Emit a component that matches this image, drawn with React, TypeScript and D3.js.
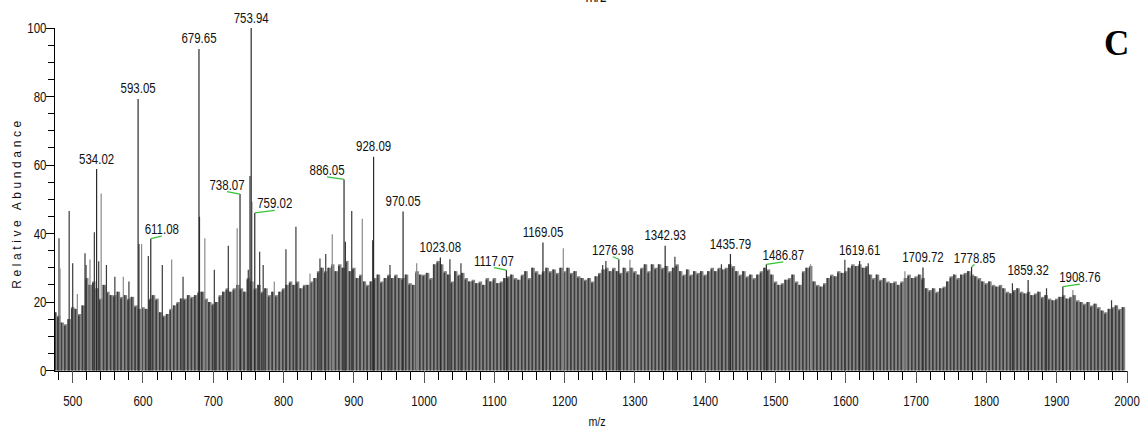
import { useMemo } from "react";
import * as d3 from "d3";

const WIDTH = 1142;
const HEIGHT = 436;
const PLOT = { left: 54, right: 1127, top: 28, bottom: 370.5 };

// dense background of the spectrum, one value every 5 m/z starting at 475
const BASE_START = 475;
const BASE_STEP = 5;
const baseIntensity = [
  17, 16, 14, 13.5, 15,
  18.5, 18, 16.5, 19, 27, 25, 26, 24, 21, 25, 23, 22, 22, 23, 21.5, 22, 21, 21.5, 19, 18,
  18.5, 18, 21, 22, 21, 17, 16, 16.5, 18, 19, 20, 21, 21, 22, 21.5, 22, 23, 23, 21, 20,
  19.5, 20, 22, 23, 24, 23, 24, 25, 24, 23, 27, 26, 24, 25, 23, 24, 22, 23, 22, 23,
  24, 25, 26, 25, 26, 24, 25, 25, 26, 27, 29, 30, 29, 30, 31, 29, 31, 30, 32, 29,
  30, 27, 28, 26, 25, 26, 27, 28, 26, 27, 28, 27, 28, 27, 27, 28, 25.5, 25, 29, 28,
  28, 28.5, 27, 31, 32, 31, 29, 28, 26, 29, 28, 28.5, 27, 26, 26.5, 25.5, 26, 25, 27, 26,
  27, 25.5, 26, 27, 27.5, 28, 27, 26.5, 28, 29, 27, 30, 29, 28, 29, 30, 29, 29.5, 28.5, 30,
  29, 30, 28.5, 29, 27.5, 27, 26.5, 27, 26, 27.5, 28.5, 29.5, 30, 29, 30, 29, 28.5, 30, 29, 30,
  29, 28, 30, 31, 29, 31, 30, 31, 30, 30.5, 29, 30, 31, 29, 28, 29.5, 28, 29, 28.5, 29,
  28, 29, 30, 29, 30, 29.5, 30, 31, 30.5, 29, 28, 29, 27.5, 28, 27, 28, 29, 30, 29.5, 28,
  26, 25, 25.5, 26.5, 27, 28, 26, 25, 29, 30, 30.5, 26, 25, 24.5, 25.5, 27, 28, 27.5, 29, 28.5,
  29, 30, 31, 30.5, 31, 30, 30.5, 28, 27, 28, 26.5, 27, 26, 25.5, 26, 25, 26, 27, 28, 27,
  27.5, 28, 27, 24, 23.5, 24, 23, 24, 24.5, 26, 27.5, 28, 27, 28, 28.5, 29, 28, 27.5, 27, 26,
  25.5, 26, 25, 24.5, 25, 24, 23, 22.5, 23.5, 24, 23, 22.5, 23, 22, 22.5, 23, 21.5, 22, 21, 20.5,
  21, 21.5, 22, 21, 21.5, 22, 20.5, 20, 19.5, 20, 19, 19.5, 18.5, 17.5, 17, 18, 18.5, 19, 18, 18.5,
];

// single lines that stand out of the background (not labelled)
const spikeMz = [
  480.5, 482, 495, 500, 506.6, 517.5, 519, 524.6, 530.8, 537, 540.5, 548, 560, 572, 580,
  594.3, 598, 607.6, 627.5, 640.8, 657, 680.4, 688, 701.5, 721.4, 734, 749.8, 752.2, 755,
  766, 771, 786.8, 803.4, 817.6, 837.6, 851.8, 860, 869.3, 888, 897, 912, 926.8, 951.4,
  989.4, 1036.7, 1052.4, 1198, 1254, 1258.6, 1292.8, 1356.8, 1423, 1549.8, 1598.6, 1631.8,
  1684, 1837, 1885.5, 1923, 1978,
];
const spikeIntensity = [
  38.6, 29.8, 46.6, 31.3, 22.3, 34.2, 30.8, 32.4, 40.4, 31.9, 51.7, 30.8, 27.4, 27.4, 26,
  36.9, 36.9, 33.4, 30.8, 32.4, 27.4, 44.9, 38.6, 29.4, 36.4, 41.5, 29.4, 56.8, 49.3,
  34.7, 30.8, 26, 35.4, 42, 28.3, 32.7, 34, 39.8, 37.6, 46.6, 44.3, 38, 30.8,
  31.3, 32.5, 31.3, 35.7, 30.8, 32, 32.3, 33.2, 31, 31, 32.3, 31.3,
  29, 25.5, 24, 23.5, 20.5,
];

// labelled peaks
const peakLabels = [
  "534.02", "593.05", "611.08", "679.65", "738.07", "753.94", "759.02", "886.05",
  "928.09", "970.05", "1023.08", "1117.07", "1169.05", "1276.98", "1342.93", "1435.79",
  "1486.87", "1619.61", "1709.72", "1778.85", "1859.32", "1908.76",
];
const peakMz = peakLabels.map(Number);
const peakIntensity = [
  58.8, 79.3, 38.5, 93.9, 51.5, 100, 46, 55.8,
  62.4, 46.4, 33, 29.3, 37.4, 32.5, 36.4, 34,
  31, 32, 30.1, 30.2, 26.4, 24.5,
];

// labels shifted sideways get a green leader line (pixel offsets)
const LEADER_DX: Record<string, number> = {
  "611.08": 11,
  "738.07": -13,
  "759.02": 20,
  "886.05": -17,
  "1117.07": -12.5,
  "1276.98": -6,
  "1486.87": 17,
  "1778.85": 3,
  "1908.76": 17,
};

const xMajorTicks = [500, 600, 700, 800, 900, 1000, 1100, 1200, 1300, 1400, 1500, 1600, 1700, 1800, 1900, 2000];
const yMajorTicks = [0, 20, 40, 60, 80, 100];

const SANS = "'Liberation Sans', Arial, sans-serif";
const SQUEEZE = 0.82; // no narrow face installed, so squeeze horizontally

type NarrowProps = {
  x: number;
  y: number;
  size: number;
  anchor?: "start" | "middle" | "end";
  dy?: string;
  children: React.ReactNode;
};

const NarrowText = ({ x, y, size, anchor = "middle", dy, children }: NarrowProps) => (
  <text
    transform={`translate(${x},${y}) scale(${SQUEEZE},1)`}
    dy={dy}
    textAnchor={anchor}
    fontSize={size}
    fontFamily={SANS}
    fill="#111"
  >
    {children}
  </text>
);

export default function App() {
  const x = useMemo(
    () => d3.scaleLinear().domain([473.4, 2000]).range([PLOT.left, PLOT.right]),
    []
  );
  const y = useMemo(
    () => d3.scaleLinear().domain([0, 100]).range([PLOT.bottom, PLOT.top]),
    []
  );

  const xMinor = d3.range(480, 2001, 20).filter((v) => v % 100 !== 0);
  const yMinor = d3.range(0, 101, 5).filter((v) => v % 20 !== 0);

  const bars = baseIntensity.map((v, i) => {
    const mz = BASE_START + i * BASE_STEP;
    const x0 = Math.max(x(mz - BASE_STEP / 2), PLOT.left + 1);
    const x1 = x(mz + BASE_STEP / 2);
    const w = x1 - x0;
    const top = y(v);
    const drop = i % 2 ? 1.5 : 0;
    return (
      <g key={"b" + i}>
        <rect x={x0} y={top} width={w} height={PLOT.bottom - top} fill="#858585" />
        <rect x={x0} y={top + drop} width={w * 0.5} height={PLOT.bottom - top - drop} fill="#3e3e3e" />
      </g>
    );
  });

  const spikes = spikeMz.map((mz, i) => (
    <line
      key={"s" + i}
      x1={x(mz)}
      x2={x(mz)}
      y1={PLOT.bottom}
      y2={y(spikeIntensity[i])}
      stroke={i % 3 === 1 ? "#8a8a8a" : "#3a3a3a"}
      strokeWidth={1.2}
    />
  ));

  const peaks = peakMz.map((mz, i) => {
    const label = peakLabels[i];
    const px = x(mz);
    const top = y(peakIntensity[i]);
    const dx = LEADER_DX[label];
    const hasLeader = dx !== undefined;
    const lx = hasLeader ? px + dx : px;
    return (
      <g key={"p" + i}>
        <line x1={px} x2={px} y1={PLOT.bottom} y2={top} stroke="#2a2a2a" strokeWidth={1.2} />
        {hasLeader && (
          <line x1={px} y1={top} x2={lx} y2={top - 2.5} stroke="#33c433" strokeWidth={1.2} />
        )}
        <NarrowText x={lx} y={top - (hasLeader ? 4.5 : 5.5)} size={14}>
          {label}
        </NarrowText>
      </g>
    );
  });

  return (
    <svg
      width={WIDTH}
      height={HEIGHT}
      style={{ position: "absolute", left: 0, top: 0, background: "#fff" }}
    >
      <defs>
        <clipPath id="plotClip">
          <rect x={PLOT.left + 1} y={0} width={PLOT.right - PLOT.left} height={PLOT.bottom + 1} />
        </clipPath>
      </defs>

      {/* title sits above the picture edge, only its foot shows */}
      <NarrowText x={596} y={1.5} size={16}>
        m/z
      </NarrowText>

      <g clipPath="url(#plotClip)">
        {bars}
        {spikes}
      </g>
      {peaks}

      {/* y axis */}
      <g shapeRendering="crispEdges">
        <line x1={PLOT.left} x2={PLOT.left} y1={y(100)} y2={PLOT.bottom + 0.5} stroke="#000" />
        {yMinor.map((v) => (
          <line key={"ym" + v} x1={PLOT.left - 6} x2={PLOT.left} y1={y(v)} y2={y(v)} stroke="#000" />
        ))}
        {yMajorTicks.map((v) => (
          <line key={"yM" + v} x1={PLOT.left - 8} x2={PLOT.left} y1={y(v)} y2={y(v)} stroke="#000" />
        ))}
      </g>
      {yMajorTicks.map((v) => (
        <NarrowText key={"yl" + v} x={PLOT.left - 7.5} y={y(v)} dy="0.36em" size={14} anchor="end">
          {v}
        </NarrowText>
      ))}

      {/* x axis */}
      <g shapeRendering="crispEdges">
        <line x1={PLOT.left} x2={PLOT.right} y1={PLOT.bottom + 0.5} y2={PLOT.bottom + 0.5} stroke="#000" />
        {xMinor.map((v) => (
          <line key={"xm" + v} x1={x(v)} x2={x(v)} y1={PLOT.bottom} y2={PLOT.bottom + 9} stroke="#000" />
        ))}
        {xMajorTicks.map((v) => (
          <line key={"xM" + v} x1={x(v)} x2={x(v)} y1={PLOT.bottom} y2={PLOT.bottom + 12} stroke="#555" />
        ))}
      </g>
      {xMajorTicks.map((v) => (
        <NarrowText key={"xl" + v} x={x(v)} y={406} size={14}>
          {v}
        </NarrowText>
      ))}

      <NarrowText x={597} y={426} size={13}>
        m/z
      </NarrowText>
      <text
        transform={`translate(21, 203) rotate(-90)`}
        textAnchor="middle"
        fontSize={12}
        letterSpacing={3.6}
        fontFamily={SANS}
        fill="#111"
      >
        Relative Abundance
      </text>

      <text
        x={1104}
        y={55}
        fontSize={35}
        fontWeight="bold"
        fontFamily="'Liberation Serif', 'Times New Roman', serif"
        fill="#000"
      >
        C
      </text>
    </svg>
  );
}
